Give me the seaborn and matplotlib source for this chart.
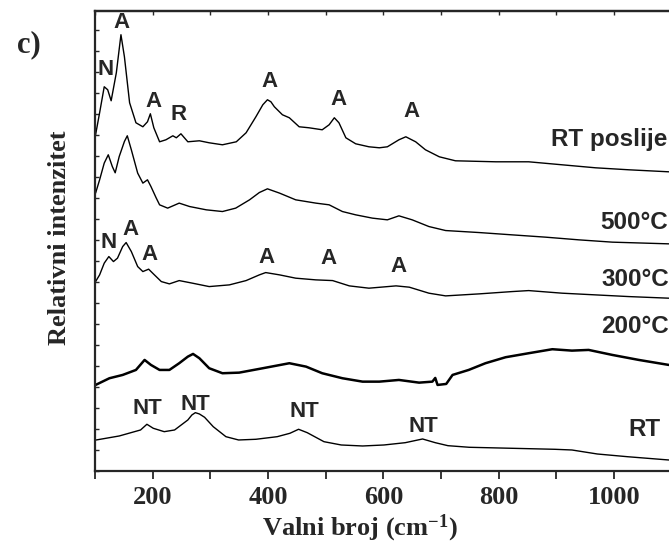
import numpy as np
import pandas as pd
import matplotlib
matplotlib.use("Agg")
import matplotlib.pyplot as plt
import seaborn as sns

# ---------------- data ----------------
# Raman shift (cm-1) and relative intensity (arbitrary, stacked offsets)
w_rtp = [101, 108, 116, 122, 128, 137, 145, 151, 160, 171, 183, 191, 196, 202, 212, 223, 235, 241,
         249, 261, 281, 298, 321, 345, 362, 379, 385, 391, 399, 405, 411, 425, 437, 454, 471, 494,
         506, 515, 523, 535, 552, 575, 593, 607, 627, 639, 656, 673, 697, 725, 795, 852, 910, 968,
         1026, 1095]
i_rtp = [336, 358, 384, 381, 370, 398, 436, 414, 368, 348, 344, 349, 357, 343, 329, 331, 335, 333,
         337, 329, 330, 328, 326, 329, 338, 354, 360, 366, 371, 369, 364, 356, 353, 344, 343, 341,
         346, 353, 348, 333, 327, 324, 323, 324, 331, 334, 329, 321, 314, 310, 309, 309, 306, 303,
         301, 299]

w_500 = [101, 108, 116, 123, 130, 135, 142, 151, 156, 163, 174, 183, 191, 197, 206, 212, 226, 246,
         264, 293, 321, 344, 368, 385, 399, 420, 448, 483, 506, 529, 552, 581, 607, 627, 650, 679,
         708, 766, 823, 881, 939, 997, 1095]
i_500 = [277.7, 291, 307.7, 316, 304.3, 298, 314.3, 329.3, 335, 321, 297.7, 287.7, 291, 284.3, 273,
         266, 262.7, 267.7, 264.3, 261, 259.3, 262.7, 271, 278.3, 282, 277.7, 271, 267.7, 266, 259.3,
         256, 252.7, 251, 255, 251, 244.3, 240.3, 238.3, 236, 233.7, 231, 228.7, 227]

w_300 = [101, 108, 116, 124, 132, 139, 148, 154, 163, 174, 183, 193, 203, 215, 229, 246, 269, 298,
         333, 362, 385, 396, 420, 448, 483, 512, 541, 575, 622, 645, 679, 708, 766, 823, 852, 910,
         968, 1026, 1095]
i_300 = [189.3, 196, 207.7, 214.3, 209.3, 212.7, 224.3, 228.3, 219.3, 204.3, 199.3, 201.7, 196,
         189.3, 187, 190.3, 187.7, 184.3, 186, 190.3, 196, 198.3, 196, 192.7, 191, 190.3, 185, 182.7,
         185, 183.7, 177.7, 175, 177, 179.3, 180.3, 177.7, 176, 174.3, 172.7]

w_200 = [101, 125, 148, 171, 186, 197, 212, 229, 246, 261, 270, 281, 298, 321, 350, 391, 437, 466,
         494, 529, 564, 593, 627, 662, 685, 690, 694, 709, 720, 748, 777, 812, 852, 893, 927, 956,
         997, 1043, 1095]
i_200 = [86, 92.7, 96, 101, 111, 106, 101, 101, 107.7, 114.3, 117, 112.7, 102.7, 97.7, 98.3, 102.7,
         107.7, 104.3, 97.7, 92.7, 89.3, 89.3, 91, 88.3, 89.3, 93, 86, 87, 96, 101, 107.7, 113.7,
         117.7, 121.7, 120.3, 121, 116, 111, 106]

w_rt = [102, 142, 179, 190, 201, 220, 238, 261, 268, 274, 281, 290, 305, 327, 349, 379, 416, 438,
        453, 468, 497, 527, 564, 601, 638, 668, 690, 712, 749, 823, 897, 927, 971, 1023, 1095]
i_rt = [31, 35, 41, 46.7, 42.7, 39.3, 41, 51, 56, 58.3, 57, 53.7, 44.3, 34.3, 31, 31.7, 34.3, 37.7,
        41.7, 38.3, 29.3, 26, 25, 26, 28.3, 32, 28.3, 25.3, 23.7, 22.7, 21.7, 21, 17, 14.3, 11]

series_names = ["RT poslije", "500°C", "300°C", "200°C", "RT"]

# peak annotations: (label, x, y)
peak_labels = [
    ("N", 118, 401), ("A", 146, 448), ("A", 201, 369), ("R", 245, 356),
    ("A", 403, 389), ("A", 522, 371), ("A", 649, 359),
    ("N", 124, 228), ("A", 161, 241), ("A", 194, 216), ("A", 397, 213),
    ("A", 505, 212), ("A", 626, 204),
    ("NT", 190, 62), ("NT", 274, 66), ("NT", 463, 59), ("NT", 669, 44),
]
# series name labels: (text, right x, y)
series_labels = [("RT poslije", 1092, 331), ("500°C", 1094, 248), ("300°C", 1095, 191),
                 ("200°C", 1095, 144), ("RT", 1080, 41)]

# ---------------- build table ----------------
frames = []
for name, w, i in zip(series_names,
                      [w_rtp, w_500, w_300, w_200, w_rt],
                      [i_rtp, i_500, i_300, i_200, i_rt]):
    frames.append(pd.DataFrame({"w": w, "I": i, "s": name}))
df = pd.concat(frames, ignore_index=True)

# ---------------- plot ----------------
sns.set_style("ticks")
plt.rcParams["font.family"] = ["Liberation Serif", "DejaVu Serif"]
plt.rcParams["mathtext.fontset"] = "custom"
plt.rcParams["mathtext.rm"] = "Liberation Serif:bold"
plt.rcParams["mathtext.bf"] = "Liberation Serif:bold"
plt.rcParams["mathtext.it"] = "Liberation Serif:bold"

W, H = 669, 549
fig = plt.figure(figsize=(W / 100, H / 100), dpi=100)
ax = fig.add_axes([95 / W, (H - 471) / H, 576.7 / W, (471 - 10.7) / H])

for name in series_names:
    sub = df[df["s"] == name]
    lw = 1.8 if name == "200°C" else 1.0
    sns.lineplot(data=sub, x="w", y="I", ax=ax, color="black", lw=lw,
                 estimator=None, sort=False, legend=False)

ax.set_xlim(100, 1100)
ax.set_ylim(0, 460)
ax.set_xlabel("")
ax.set_ylabel("")

ax.set_xticks([200, 400, 600, 800, 1000])
ax.set_xticks([100, 300, 500, 700, 900, 1100], minor=True)
ax.tick_params(axis="x", which="both", direction="out", length=6, width=1.3,
               labelsize=19, pad=5)
for lab in ax.get_xticklabels():
    lab.set_fontweight("bold")
ax.set_yticks(np.arange(0, 461, 21))
ax.tick_params(axis="y", which="both", direction="in", length=3, width=1.0, labelleft=False)

top = ax.secondary_xaxis("top")
top.set_xticks(np.arange(100, 1101, 100))
top.tick_params(direction="in", length=3, width=1.0, labeltop=False)
top.spines["top"].set_linewidth(1.6)

for sp in ax.spines.values():
    sp.set_linewidth(1.6)
    sp.set_visible(True)

for txt, x, y in peak_labels:
    ax.text(x, y, txt, ha="center", va="center", fontsize=16, fontweight="bold",
            family=["Liberation Sans", "DejaVu Sans"])
for txt, x, y in series_labels:
    ax.text(x, y, txt, ha="right", va="center", fontsize=17.5, fontweight="bold",
            family=["Liberation Sans", "DejaVu Sans"], clip_on=False)

fig.text(360 / W, 1 - 528 / H, r"Valni broj (cm$^{-1}$)", ha="center", va="center",
         fontsize=19, fontweight="bold")
fig.text(60 / W, 1 - 237.5 / H, "Relativni intenzitet", ha="center", va="center",
         fontsize=19, fontweight="bold", rotation=90)
fig.text(29 / W, 1 - 45 / H, "c)", ha="center", va="center", fontsize=22, fontweight="bold")

fig.savefig("out.png", dpi=100)
